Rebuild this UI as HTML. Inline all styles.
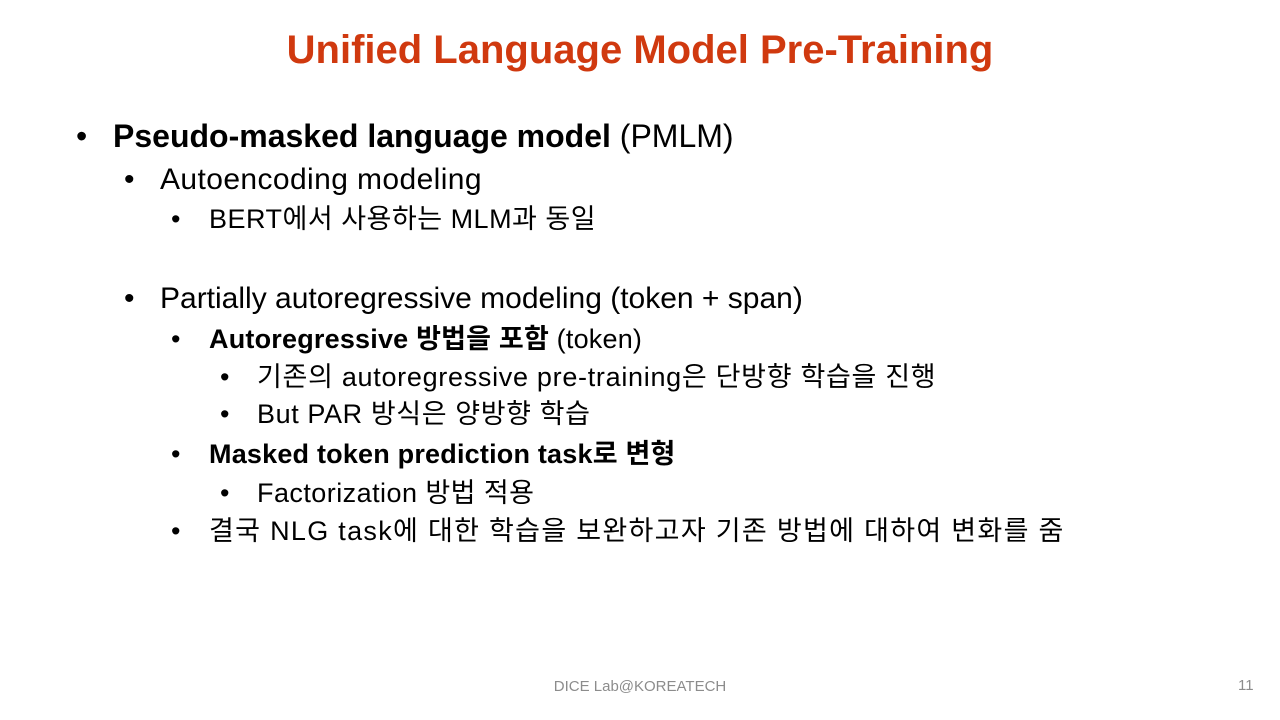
<!DOCTYPE html>
<html><head><meta charset="utf-8">
<style>
body{margin:0;width:1280px;height:720px;background:#fff;position:relative;overflow:hidden;font-family:"Liberation Sans","Noto Sans CJK KR",sans-serif;color:#000}
.t{position:absolute;white-space:nowrap}
.title{left:0;width:1280px;text-align:center;top:26px;font-size:40px;line-height:48px;font-weight:bold;color:#d0390f}
.l1{font-size:32px;line-height:36px}
.l2{font-size:30px;line-height:34px}
.l3{font-size:27px;line-height:30px}
.l4{font-size:27px;line-height:30px}
.b{position:absolute;white-space:nowrap}
</style></head><body>
<div class="t title">Unified Language Model Pre-Training</div>

<div class="b l1" style="left:76px;top:118px">•</div>
<div class="t l1" style="left:113px;top:118px"><b>Pseudo-masked language model</b> (PMLM)</div>

<div class="b l2" style="left:124px;top:163px">•</div>
<div class="t l2" style="left:160px;top:163px;letter-spacing:0.4px">Autoencoding modeling</div>

<div class="b l3" style="left:171px;top:204px">•</div>
<div class="t l3" style="left:209px;top:204px;letter-spacing:0.5px">BERT에서 사용하는 MLM과 동일</div>

<div class="b l2" style="left:124px;top:282px">•</div>
<div class="t l2" style="left:160px;top:282px">Partially autoregressive modeling (token + span)</div>

<div class="b l3" style="left:171px;top:324px">•</div>
<div class="t l3" style="left:209px;top:324px;letter-spacing:0.2px"><b>Autoregressive 방법을 포함</b> (token)</div>

<div class="b l4" style="left:220px;top:362px">•</div>
<div class="t l4" style="left:257px;top:362px;letter-spacing:0.7px">기존의 autoregressive pre-training은 단방향 학습을 진행</div>

<div class="b l4" style="left:220px;top:399px">•</div>
<div class="t l4" style="left:257px;top:399px;letter-spacing:0.6px">But PAR 방식은 양방향 학습</div>

<div class="b l3" style="left:171px;top:439px">•</div>
<div class="t l3" style="left:209px;top:439px;letter-spacing:0.2px"><b>Masked token prediction task로 변형</b></div>

<div class="b l4" style="left:220px;top:478px">•</div>
<div class="t l4" style="left:257px;top:478px;letter-spacing:0.45px">Factorization 방법 적용</div>

<div class="b l3" style="left:171px;top:516px">•</div>
<div class="t l3" style="left:209px;top:516px;letter-spacing:1.3px">결국 NLG task에 대한 학습을 보완하고자 기존 방법에 대하여 변화를 줌</div>

<div class="t" style="left:0;width:1280px;text-align:center;top:678px;font-size:15px;line-height:18px;color:#8c8c8c">DICE Lab@KOREATECH</div>
<div class="t" style="left:1238px;top:677px;font-size:15px;line-height:18px;color:#8c8c8c">11</div>
</body></html>
